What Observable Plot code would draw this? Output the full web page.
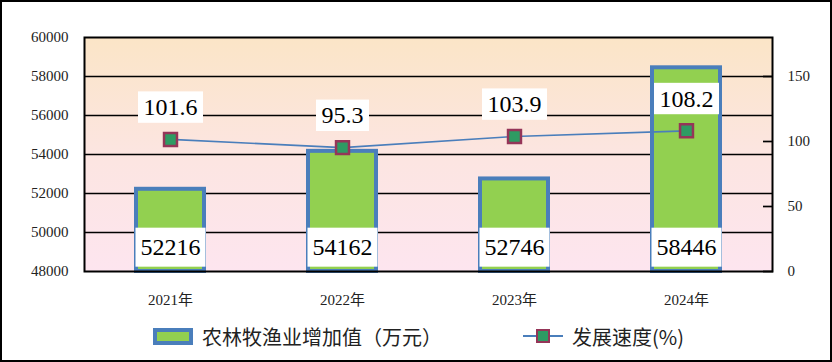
<!DOCTYPE html>
<html>
<head>
<meta charset="utf-8">
<script src="https://cdn.jsdelivr.net/npm/d3@7"></script>
<script src="https://cdn.jsdelivr.net/npm/@observablehq/plot@0.6"></script>
<style>
  html, body { margin: 0; padding: 0; background: #fff; }
  #wrap { position: relative; width: 832px; height: 362px; overflow: hidden; background: #fff; }
  #chart svg { display: block; }
  #border { position: absolute; left: 0; top: 0; width: 832px; height: 362px; box-sizing: border-box; border: 2px solid #000; pointer-events: none; }
  .leg { position: absolute; top: 322px; height: 28px; display: flex; align-items: center; font-family: "Noto Sans CJK SC", sans-serif; font-size: 20px; color: #222; white-space: nowrap; }
  .sw-bar { width: 32px; height: 9px; background: #92D050; border: 4px solid #4A7EBB; margin-right: 9px; }
  .sw-line { position: relative; width: 40px; height: 28px; margin-right: 9px; }
  .sw-line .ln { position: absolute; left: 0; right: 0; top: 13px; height: 2px; background: #4A7EBB; }
  .sw-line .mk { position: absolute; left: 13px; top: 7px; width: 10px; height: 10px; background: #2E9B63; border: 2.5px solid #953558; }
</style>
</head>
<body>
<div id="wrap">
  <div id="chart"></div>
  <div class="leg" style="left:153px"><div class="sw-bar"></div><span>农林牧渔业增加值（万元）</span></div>
  <div class="leg" style="left:523px"><div class="sw-line"><div class="ln"></div><div class="mk"></div></div><span>发展速度(%)</span></div>
  <div id="border"></div>
</div>
<script>
const years = ["2021年", "2022年", "2023年", "2024年"];
const values = [52216, 54162, 52746, 58446];
const speeds = [101.6, 95.3, 103.9, 108.2];
const leftTicks = [48000, 50000, 52000, 54000, 56000, 58000, 60000];
const rightTicks = [0, 50, 100, 150];
const leftMin = 48000, leftMax = 60000, rightMax = 180;

const toLeft = s => leftMin + s * (leftMax - leftMin) / rightMax;
const fromLeft = v => (v - leftMin) * rightMax / (leftMax - leftMin);

const data = years.map((year, i) => ({year, value: values[i], speed: speeds[i], speedY: toLeft(speeds[i])}));
const barLabels = new Set(values.map(v => String(v)));
const speedLabels = new Set(speeds.map(s => s.toFixed(1)));

const chart = Plot.plot({
  width: 832,
  height: 310,
  marginTop: 37,
  marginBottom: 39,
  marginLeft: 84,
  marginRight: 60,
  style: {background: "transparent", fontFamily: "'Liberation Serif', 'Noto Sans CJK SC', serif", color: "#222"},
  x: {domain: years, type: "band", paddingInner: 0.605, paddingOuter: 0.3025, label: null},
  y: {domain: [leftMin, leftMax], label: null},
  marks: [
    Plot.frame({fill: "url(#bgGrad)"}),
    Plot.ruleY(leftTicks.slice(1, -1), {stroke: "#000", strokeWidth: 1.7}),
    Plot.barY(data, {x: "year", y1: leftMin, y2: "value", fill: "#92D050", stroke: "#4A7EBB", strokeWidth: 4}),
    Plot.text(data, {x: "year", y: leftMin, dy: -24, text: d => String(d.value), fontSize: 24, fill: "#000"}),
    Plot.line(data, {x: "year", y: "speedY", stroke: "#4A7EBB", strokeWidth: 1.6}),
    Plot.dot(data, {x: "year", y: "speedY", symbol: "square", r: 7.3, fill: "#2E9B63", stroke: "#953558", strokeWidth: 2.5}),
    Plot.text(data, {x: "year", y: "speedY", dy: -32, text: d => d.speed.toFixed(1), fontSize: 24, fill: "#000"}),
    Plot.frame({stroke: "#000", strokeWidth: 2}),
    Plot.axisY({anchor: "left", ticks: leftTicks, tickFormat: d => String(d), tickSize: 0, tickPadding: 16, fontSize: 15, label: null}),
    Plot.axisY({anchor: "right", ticks: rightTicks.map(toLeft), tickFormat: d => String(Math.round(fromLeft(d))), tickSize: 0, tickPadding: 15, fontSize: 15, label: null}),
    Plot.axisY({anchor: "right", ticks: rightTicks.map(toLeft), tickFormat: () => "", tickSize: 10, dx: -10, strokeWidth: 1.7, stroke: "#000", label: null}),
    Plot.axisX({tickSize: 0, tickPadding: 23, fontSize: 15, label: null})
  ]
});

document.getElementById("chart").appendChild(chart);

d3.select(chart).insert("defs", ":first-child").html(
  '<linearGradient id="bgGrad" x1="0" y1="0" x2="0" y2="1">' +
  '<stop offset="0" stop-color="#FBE5C7"/>' +
  '<stop offset="0.5" stop-color="#FCE5E1"/>' +
  '<stop offset="1" stop-color="#FDE5EF"/>' +
  '</linearGradient>');

function boxify(labels, padX, padY) {
  chart.querySelectorAll("text").forEach(function (el) {
    if (!labels.has(el.textContent.trim())) return;
    const b = el.getBBox();
    const r = document.createElementNS("http://www.w3.org/2000/svg", "rect");
    r.setAttribute("x", b.x - padX);
    r.setAttribute("y", b.y - padY);
    r.setAttribute("width", b.width + 2 * padX);
    r.setAttribute("height", b.height + 2 * padY);
    r.setAttribute("fill", "#fff");
    r.setAttribute("stroke", "none");
    const t = el.getAttribute("transform");
    if (t) r.setAttribute("transform", t);
    el.parentNode.insertBefore(r, el);
  });
}
boxify(barLabels, 5, 6.5);
boxify(speedLabels, 5.5, 2.7);
</script>
</body>
</html>
